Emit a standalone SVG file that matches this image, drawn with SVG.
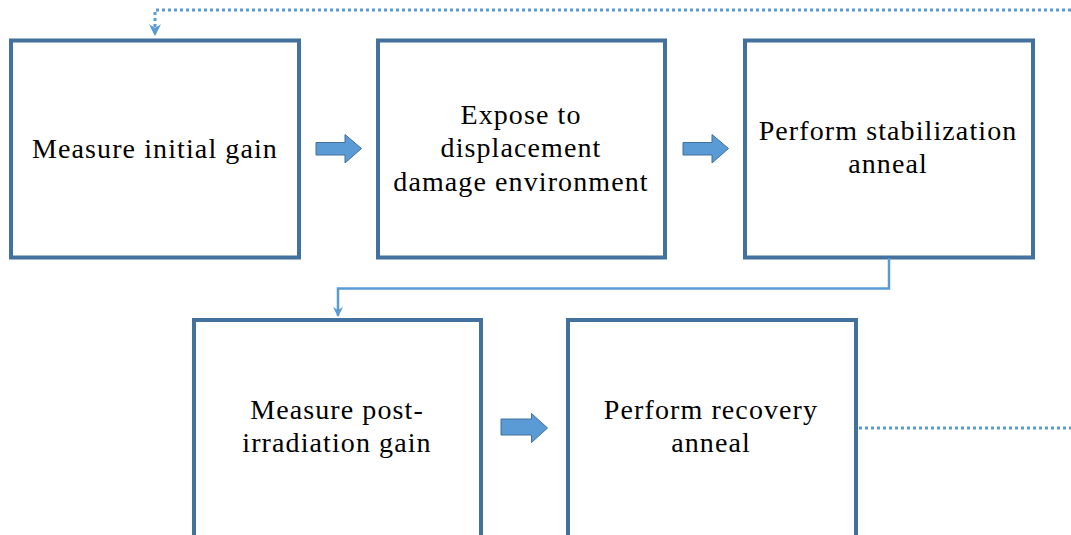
<svg xmlns="http://www.w3.org/2000/svg" width="1071" height="535" viewBox="0 0 1071 535">
<style>
.box{fill:#fff;stroke:#41719C;stroke-width:4}
.t{font-family:"Liberation Serif",serif;font-size:28px;letter-spacing:1.1px;fill:#000;text-anchor:middle}
.blk{fill:#5B9BD5;stroke:#41719C;stroke-width:1}
.conn{fill:none;stroke:#5B9BD5;stroke-width:2.5}
.dot{fill:none;stroke:#5B9BD5;stroke-width:3;stroke-dasharray:3 3}
</style>
<defs>
<marker id="ah" viewBox="0 0 10 10" refX="9" refY="5" markerWidth="4" markerHeight="4" orient="auto" markerUnits="strokeWidth">
<path d="M0,0 L10,5 L0,10 L3,5 Z" fill="#5B9BD5"/>
</marker>
</defs>
<rect width="1071" height="535" fill="#fff"/>
<g id="n1"><rect class="box" x="11" y="40.5" width="288" height="217"/>
<text class="t" x="155" y="158">Measure initial gain</text></g>
<g id="n2"><rect class="box" x="378" y="40.5" width="287" height="217"/>
<text class="t" x="521" y="124">Expose to</text><text class="t" x="521" y="157">displacement</text><text class="t" x="521" y="191">damage environment</text></g>
<g id="n3"><rect class="box" x="745" y="40.5" width="288" height="217"/>
<text class="t" x="888" y="140">Perform stabilization</text><text class="t" x="888" y="173">anneal</text></g>
<g id="n4"><rect class="box" x="194" y="320" width="287" height="225"/>
<text class="t" x="337" y="419">Measure post-</text><text class="t" x="337" y="452">irradiation gain</text></g>
<g id="n5"><rect class="box" x="568" y="320" width="288" height="225"/>
<text class="t" x="711" y="419">Perform recovery</text><text class="t" x="711" y="452">anneal</text></g>
<g id="connectors">
<path class="blk" d="M316,142.5 H345 V134.5 L361.5,148.5 L345,163 V155 H316 Z"/>
<path class="blk" d="M683,142.5 H712 V134.5 L728.5,148.5 L712,163 V155 H683 Z"/>
<path class="blk" d="M501,419 H531.5 V413.5 L547.5,428 L531.5,442.5 V435 H501 Z"/>
<path class="conn" d="M889,258 V288.5 H338 V316" marker-end="url(#ah)"/>
<path class="dot" d="M1071,10 H155 V35" marker-end="url(#ah)"/>
<path class="dot" d="M859,428 H1071"/>
</g>
</svg>
